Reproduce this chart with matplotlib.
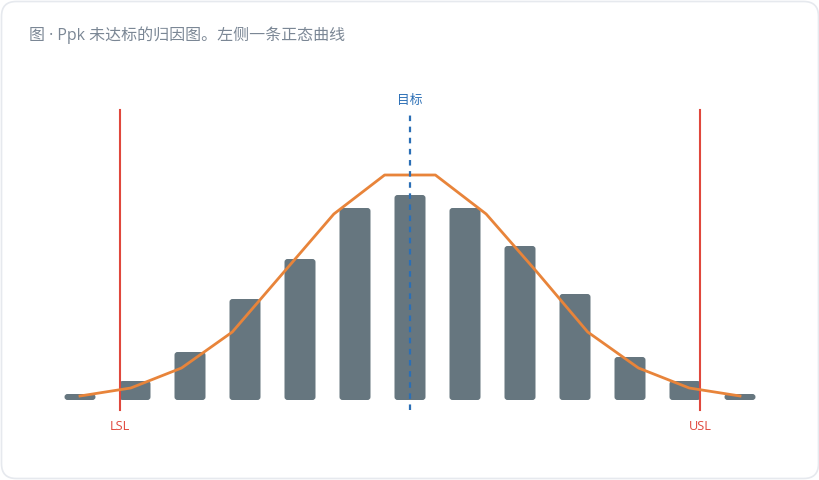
import matplotlib
matplotlib.use("Agg")
import matplotlib.pyplot as plt
from matplotlib.patches import FancyBboxPatch
import numpy as np

plt.rcParams['font.family'] = ['Open Sans', 'Noto Sans CJK SC', 'DejaVu Sans']

# histogram bins (index) and frequencies
bins = list(range(1, 14))
freq = [6, 19, 48, 101, 141, 192, 205, 192, 154, 106, 43, 19, 6]

# normal curve, 14 points spread across the bins
curve_y = [4, 12, 32, 68, 127, 186, 225, 225, 186, 128, 68, 32, 12, 4]
curve_x = np.linspace(bins[0], bins[-1], len(curve_y))

lsl, usl, target = 1.73, 12.27, 7.0
title = "图 · Ppk 未达标的归因图。左侧一条正态曲线"

bar_color = "#66767f"
curve_color = "#e8843a"
spec_color = "#e0483d"
target_color = "#2b6fb6"

fig = plt.figure(figsize=(8.2, 4.8), dpi=100)
fig.patch.set_facecolor("white")

# card background
card = FancyBboxPatch((1.5 / 820, 1.5 / 480), 817 / 820, 477 / 480,
                      boxstyle="round,pad=0,rounding_size=0.018",
                      transform=fig.transFigure, facecolor="white",
                      edgecolor="#e6e9ee", linewidth=1.2, mutation_aspect=820 / 480,
                      zorder=-5)
fig.patches.append(card)

ax = fig.add_axes([0, 0, 1, 1])
ax.set_facecolor("none")
ax.set_xlim(1 - 80 / 55, 1 + 740 / 55)
ax.set_ylim(-80, 400)
ax.axis("off")

width = 31 / 55
for b, f in zip(bins, freq):
    ax.add_patch(FancyBboxPatch((b - width / 2, 0), width, f,
                                boxstyle="round,pad=0,rounding_size=%f" % (3 / 55),
                                mutation_aspect=55, facecolor=bar_color,
                                edgecolor="none", zorder=2))

for x, name in [(lsl, "LSL"), (usl, "USL")]:
    ax.plot([x, x], [-10, 290], color=spec_color, lw=1.5, zorder=3)
    ax.text(x, -26, name, color=spec_color, fontsize=9.2, ha="center", va="center")

ax.plot(curve_x, curve_y, color=curve_color, lw=2, zorder=4,
        solid_joinstyle="round")

ax.plot([target, target], [-10, 290], color=target_color, lw=1.6,
        linestyle=(0, (2.5, 2.5)), zorder=5)
ax.text(target, 300, "目标", color=target_color, fontsize=9.2,
        ha="center", va="center")

fig.text(29 / 820, 1 - 35 / 480, title, color="#7b8795", fontsize=11.5,
         ha="left", va="center")

fig.savefig("out.png", dpi=100)
